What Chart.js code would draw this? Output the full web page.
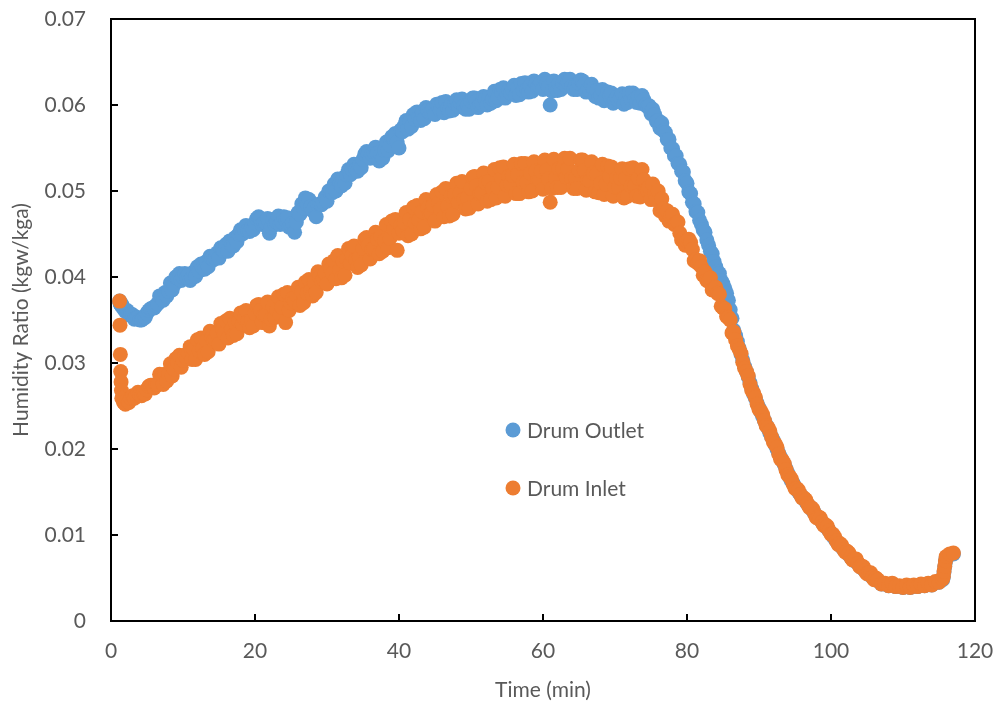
<!DOCTYPE html>
<html>
<head>
<meta charset="utf-8">
<title>Humidity Ratio</title>
<script src="https://cdn.jsdelivr.net/npm/chart.js@4.4.1/dist/chart.umd.min.js"></script>
<style>
  body { margin: 0; background: #fff; }
  #wrap { width: 998px; height: 706px; }
</style>
</head>
<body>
<div id="wrap"><canvas id="humidity" width="998" height="706"></canvas></div>
<script>
// time (min): first readings very close, every 0.25 min up to 106, every 0.5 min after, close again at the end jump
const times = [
  1.2, 1.25, 1.3, 1.35, 1.4, 1.45,
  1.5, 1.75, 2, 2.25, 2.5, 2.75, 3, 3.25, 3.5, 3.75, 4, 4.25, 4.5, 4.75, 5, 5.25, 5.5, 5.75, 6, 6.25,
  6.5, 6.75, 7, 7.25, 7.5, 7.75, 8, 8.25, 8.5, 8.75, 9, 9.25, 9.5, 9.75, 10, 10.25, 10.5, 10.75, 11, 11.25,
  11.5, 11.75, 12, 12.25, 12.5, 12.75, 13, 13.25, 13.5, 13.75, 14, 14.25, 14.5, 14.75, 15, 15.25, 15.5, 15.75, 16, 16.25,
  16.5, 16.75, 17, 17.25, 17.5, 17.75, 18, 18.25, 18.5, 18.75, 19, 19.25, 19.5, 19.75, 20, 20.25, 20.5, 20.75, 21, 21.25,
  21.5, 21.75, 22, 22.25, 22.5, 22.75, 23, 23.25, 23.5, 23.75, 24, 24.25, 24.5, 24.75, 25, 25.25, 25.5, 25.75, 26, 26.25,
  26.5, 26.75, 27, 27.25, 27.5, 27.75, 28, 28.25, 28.5, 28.75, 29, 29.25, 29.5, 29.75, 30, 30.25, 30.5, 30.75, 31, 31.25,
  31.5, 31.75, 32, 32.25, 32.5, 32.75, 33, 33.25, 33.5, 33.75, 34, 34.25, 34.5, 34.75, 35, 35.25, 35.5, 35.75, 36, 36.25,
  36.5, 36.75, 37, 37.25, 37.5, 37.75, 38, 38.25, 38.5, 38.75, 39, 39.25, 39.5, 39.75, 40, 40.25, 40.5, 40.75, 41, 41.25,
  41.5, 41.75, 42, 42.25, 42.5, 42.75, 43, 43.25, 43.5, 43.75, 44, 44.25, 44.5, 44.75, 45, 45.25, 45.5, 45.75, 46, 46.25,
  46.5, 46.75, 47, 47.25, 47.5, 47.75, 48, 48.25, 48.5, 48.75, 49, 49.25, 49.5, 49.75, 50, 50.25, 50.5, 50.75, 51, 51.25,
  51.5, 51.75, 52, 52.25, 52.5, 52.75, 53, 53.25, 53.5, 53.75, 54, 54.25, 54.5, 54.75, 55, 55.25, 55.5, 55.75, 56, 56.25,
  56.5, 56.75, 57, 57.25, 57.5, 57.75, 58, 58.25, 58.5, 58.75, 59, 59.25, 59.5, 59.75, 60, 60.25, 60.5, 60.75, 61, 61.25,
  61.5, 61.75, 62, 62.25, 62.5, 62.75, 63, 63.25, 63.5, 63.75, 64, 64.25, 64.5, 64.75, 65, 65.25, 65.5, 65.75, 66, 66.25,
  66.5, 66.75, 67, 67.25, 67.5, 67.75, 68, 68.25, 68.5, 68.75, 69, 69.25, 69.5, 69.75, 70, 70.25, 70.5, 70.75, 71, 71.25,
  71.5, 71.75, 72, 72.25, 72.5, 72.75, 73, 73.25, 73.5, 73.75, 74, 74.25, 74.5, 74.75, 75, 75.25, 75.5, 75.75, 76, 76.25,
  76.5, 76.75, 77, 77.25, 77.5, 77.75, 78, 78.25, 78.5, 78.75, 79, 79.25, 79.5, 79.75, 80, 80.25, 80.5, 80.75, 81, 81.25,
  81.5, 81.75, 82, 82.25, 82.5, 82.75, 83, 83.25, 83.5, 83.75, 84, 84.25, 84.5, 84.75, 85, 85.25, 85.5, 85.75, 86, 86.25,
  86.5, 86.75, 87, 87.25, 87.5, 87.75, 88, 88.25, 88.5, 88.75, 89, 89.25, 89.5, 89.75, 90, 90.25, 90.5, 90.75, 91, 91.25,
  91.5, 91.75, 92, 92.25, 92.5, 92.75, 93, 93.25, 93.5, 93.75, 94, 94.25, 94.5, 94.75, 95, 95.25, 95.5, 95.75, 96, 96.25,
  96.5, 96.75, 97, 97.25, 97.5, 97.75, 98, 98.25, 98.5, 98.75, 99, 99.25, 99.5, 99.75, 100, 100.25, 100.5, 100.75, 101, 101.25,
  101.5, 101.75, 102, 102.25, 102.5, 102.75, 103, 103.25, 103.5, 103.75, 104, 104.25, 104.5, 104.75, 105, 105.25, 105.5, 105.75, 106, 106.25,
  106.5, 107, 107.5, 108, 108.5, 109, 109.5, 110, 110.5, 111,
  111.5, 112, 112.5, 113, 113.5, 114, 114.5, 115, 115.5,
  115.6, 115.7, 115.8, 115.9, 116, 116.5, 117
];

// humidity ratio, kgw/kga
const drumOutlet = [
  .0372, .0370, .0369, .0368, .0367, .0367,
  .0368, .0363, .0360, .0361, .0356, .0357, .0356, .0351, .0352, .0353, .0350, .0350, .0352, .0353, .0358, .0361, .0363, .0364, .0364, .0367,
  .0369, .0378, .0378, .0373, .0382, .0378, .0383, .0393, .0385, .0391, .0400, .0399, .0404, .0396, .0400, .0404, .0400, .0403, .0396, .0399,
  .0406, .0401, .0412, .0407, .0415, .0410, .0409, .0418, .0412, .0424, .0422, .0420, .0422, .0428, .0422, .0434, .0432, .0430, .0438, .0430,
  .0442, .0437, .0436, .0446, .0441, .0450, .0455, .0450, .0456, .0460, .0454, .0453, .0457, .0455, .0463, .0468, .0470, .0468, .0461, .0463,
  .0463, .0468, .0451, .0458, .0467, .0461, .0464, .0471, .0461, .0464, .0470, .0467, .0469, .0458, .0460, .0463, .0452, .0464, .0475, .0473,
  .0485, .0480, .0492, .0484, .0490, .0482, .0477, .0481, .0470, .0484, .0485, .0484, .0487, .0493, .0488, .0500, .0500, .0498, .0508, .0500,
  .0514, .0508, .0506, .0515, .0509, .0519, .0525, .0519, .0525, .0531, .0525, .0523, .0529, .0527, .0537, .0543, .0546, .0544, .0538, .0543,
  .0545, .0551, .0544, .0535, .0542, .0538, .0547, .0557, .0547, .0553, .0563, .0561, .0567, .0557, .0550, .0571, .0569, .0576, .0582, .0572,
  .0581, .0575, .0589, .0583, .0592, .0585, .0582, .0591, .0584, .0597, .0594, .0591, .0592, .0596, .0589, .0601, .0598, .0594, .0603, .0591,
  .0604, .0596, .0593, .0601, .0594, .0602, .0606, .0598, .0603, .0607, .0599, .0595, .0599, .0595, .0604, .0608, .0608, .0604, .0597, .0601,
  .0602, .0610, .0607, .0600, .0609, .0602, .0607, .0616, .0605, .0609, .0618, .0615, .0620, .0608, .0613, .0617, .0614, .0618, .0623, .0611,
  .0620, .0612, .0625, .0617, .0626, .0618, .0615, .0623, .0616, .0628, .0625, .0621, .0622, .0626, .0618, .0630, .0625, .0621, .0600, .0616,
  .0628, .0620, .0617, .0625, .0618, .0626, .0630, .0622, .0626, .0630, .0622, .0618, .0622, .0618, .0625, .0629, .0628, .0624, .0615, .0618,
  .0617, .0624, .0619, .0610, .0617, .0608, .0611, .0618, .0605, .0608, .0615, .0611, .0614, .0602, .0605, .0609, .0605, .0609, .0613, .0601,
  .0610, .0603, .0614, .0607, .0614, .0607, .0603, .0610, .0602, .0611, .0606, .0600, .0598, .0599, .0590, .0595, .0589, .0581, .0582, .0573,
  .0579, .0570, .0568, .0560, .0560, .0550, .0549, .0541, .0541, .0532, .0531, .0523, .0522, .0512, .0509, .0499, .0497, .0487, .0485, .0476,
  .0475, .0466, .0461, .0455, .0452, .0443, .0437, .0430, .0427, .0418, .0412, .0406, .0404, .0396, .0392, .0387, .0381, .0373, .0362, .0352,
  .0338, .0332, .0325, .0317, .0310, .0303, .0296, .0290, .0284, .0277, .0270, .0264, .0259, .0253, .0248, .0243, .0238, .0233, .0228, .0224,
  .0219, .0214, .0210, .0205, .0200, .0195, .0190, .0186, .0182, .0177, .0172, .0167, .0163, .0160, .0156, .0153, .0150, .0147, .0144, .0142,
  .0139, .0136, .0133, .0131, .0128, .0125, .0121, .0120, .0118, .0115, .0112, .0110, .0108, .0105, .0102, .0099, .0096, .0093, .0090, .0088,
  .0086, .0083, .0081, .0079, .0077, .0074, .0072, .0070, .0070, .0067, .0064, .0062, .0061, .0058, .0056, .0054, .0054, .0051, .0049, .0048,
  .0047, .0043, .0043, .0041, .0043, .0040, .0040, .0039, .0041, .0039,
  .0041, .0040, .0042, .0041, .0043, .0042, .0045, .0045, .0048,
  .0051, .0057, .0063, .0069, .0074, .0077, .0078
];

const drumInlet = [
  .0372, .0344, .0310, .0290, .0278, .0268,
  .0259, .0254, .0252, .0257, .0254, .0259, .0262, .0259, .0263, .0266, .0263, .0262, .0265, .0264, .0269, .0273, .0274, .0274, .0271, .0275,
  .0275, .0287, .0283, .0275, .0287, .0279, .0287, .0299, .0285, .0293, .0305, .0301, .0309, .0295, .0303, .0309, .0306, .0312, .0319, .0304,
  .0316, .0304, .0327, .0314, .0329, .0317, .0310, .0326, .0313, .0337, .0330, .0326, .0327, .0335, .0322, .0346, .0339, .0334, .0349, .0329,
  .0352, .0339, .0332, .0347, .0334, .0349, .0358, .0345, .0352, .0361, .0348, .0341, .0350, .0343, .0358, .0367, .0368, .0361, .0347, .0356,
  .0356, .0371, .0343, .0351, .0366, .0353, .0362, .0377, .0356, .0365, .0380, .0347, .0382, .0361, .0370, .0375, .0372, .0379, .0388, .0367,
  .0383, .0370, .0394, .0381, .0397, .0384, .0378, .0394, .0382, .0406, .0400, .0395, .0397, .0404, .0392, .0415, .0409, .0404, .0419, .0398,
  .0425, .0408, .0399, .0418, .0402, .0421, .0433, .0416, .0425, .0436, .0420, .0411, .0423, .0414, .0433, .0444, .0446, .0437, .0421, .0432,
  .0433, .0452, .0444, .0427, .0447, .0430, .0442, .0461, .0434, .0445, .0465, .0456, .0467, .0431, .0451, .0460, .0454, .0463, .0475, .0448,
  .0467, .0450, .0481, .0463, .0483, .0466, .0456, .0476, .0458, .0490, .0480, .0473, .0474, .0483, .0465, .0496, .0486, .0479, .0499, .0470,
  .0503, .0482, .0471, .0494, .0473, .0496, .0509, .0487, .0498, .0511, .0490, .0479, .0492, .0480, .0503, .0516, .0517, .0506, .0485, .0497,
  .0498, .0521, .0510, .0488, .0511, .0490, .0503, .0525, .0492, .0504, .0527, .0515, .0528, .0494, .0507, .0517, .0508, .0518, .0531, .0497,
  .0519, .0497, .0532, .0510, .0532, .0510, .0499, .0521, .0500, .0534, .0523, .0513, .0513, .0523, .0502, .0536, .0524, .0514, .0487, .0503,
  .0537, .0515, .0504, .0526, .0504, .0526, .0538, .0516, .0526, .0538, .0515, .0503, .0515, .0503, .0524, .0536, .0536, .0524, .0501, .0513,
  .0512, .0534, .0521, .0499, .0520, .0498, .0509, .0531, .0496, .0508, .0529, .0517, .0528, .0494, .0505, .0515, .0505, .0515, .0526, .0492,
  .0515, .0494, .0526, .0506, .0527, .0506, .0494, .0515, .0493, .0525, .0513, .0501, .0501, .0505, .0490, .0508, .0498, .0490, .0500, .0477,
  .0491, .0479, .0471, .0477, .0465, .0471, .0473, .0461, .0462, .0464, .0451, .0443, .0445, .0437, .0442, .0444, .0440, .0432, .0419, .0420,
  .0416, .0419, .0412, .0402, .0406, .0396, .0395, .0399, .0385, .0385, .0388, .0381, .0380, .0366, .0364, .0363, .0354, .0353, .0350, .0335,
  .0336, .0327, .0320, .0316, .0311, .0301, .0294, .0290, .0285, .0275, .0268, .0265, .0260, .0252, .0246, .0244, .0240, .0233, .0227, .0225,
  .0221, .0214, .0208, .0206, .0202, .0194, .0188, .0187, .0183, .0176, .0170, .0168, .0165, .0159, .0154, .0154, .0152, .0147, .0143, .0143,
  .0141, .0136, .0132, .0132, .0130, .0124, .0120, .0121, .0120, .0115, .0111, .0112, .0110, .0105, .0101, .0101, .0098, .0093, .0089, .0090,
  .0088, .0083, .0080, .0081, .0079, .0074, .0071, .0072, .0072, .0067, .0063, .0064, .0063, .0058, .0055, .0056, .0056, .0051, .0048, .0050,
  .0048, .0043, .0044, .0041, .0044, .0040, .0041, .0039, .0042, .0039,
  .0042, .0040, .0043, .0041, .0044, .0042, .0046, .0045, .0049,
  .0052, .0058, .0064, .0070, .0075, .0078, .0079
];

const xTicks = [0, 20, 40, 60, 80, 100, 120];
const yTicks = [0, 0.01, 0.02, 0.03, 0.04, 0.05, 0.06, 0.07];

const seriesNames = ['Drum Outlet', 'Drum Inlet'];
const seriesColors = ['#5B9BD5', '#ED7D31'];

const textGrey = '#595959';
const fontFamily = 'Lato, "Open Sans", sans-serif';

function toPoints(ys) {
  return ys.map((y, i) => ({ x: times[i], y: y }));
}

// black box round the plot + inside tick marks like excel
const frameAndTicks = {
  id: 'frameAndTicks',
  afterDraw(chart) {
    const ctx = chart.ctx;
    const a = chart.chartArea;
    const xs = chart.scales.x, ys = chart.scales.y;
    ctx.save();
    ctx.strokeStyle = '#000';
    ctx.lineWidth = 2;
    ctx.strokeRect(a.left, a.top, a.right - a.left, a.bottom - a.top);
    ctx.beginPath();
    xTicks.forEach(v => {
      const px = Math.round(xs.getPixelForValue(v));
      ctx.moveTo(px, a.bottom);
      ctx.lineTo(px, a.bottom - 7);
    });
    yTicks.forEach(v => {
      const py = Math.round(ys.getPixelForValue(v));
      ctx.moveTo(a.left, py);
      ctx.lineTo(a.left + 7, py);
    });
    ctx.stroke();
    ctx.restore();
  }
};

// legend sits inside the plot, in the middle
const innerLegend = {
  id: 'innerLegend',
  afterDatasetsDraw(chart) {
    const ctx = chart.ctx;
    ctx.save();
    ctx.font = '21px ' + fontFamily;
    ctx.textBaseline = 'middle';
    ctx.textAlign = 'left';
    seriesNames.forEach((name, i) => {
      const cy = 430 + i * 58;
      ctx.fillStyle = seriesColors[i];
      ctx.beginPath();
      ctx.arc(513, cy, 7.5, 0, Math.PI * 2);
      ctx.fill();
      ctx.fillStyle = textGrey;
      ctx.fillText(name, 527, cy + 1);
    });
    ctx.restore();
  }
};

const ctx = document.getElementById('humidity');
const myChart = new Chart(ctx, {
  type: 'scatter',
  data: {
    datasets: [
      {
        label: seriesNames[0],
        data: toPoints(drumOutlet),
        backgroundColor: seriesColors[0],
        borderWidth: 0,
        pointRadius: 7.5,
        order: 2
      },
      {
        label: seriesNames[1],
        data: toPoints(drumInlet),
        backgroundColor: seriesColors[1],
        borderWidth: 0,
        pointRadius: 7.5,
        order: 1
      }
    ]
  },
  options: {
    responsive: false,
    animation: false,
    layout: { padding: { left: 0, right: 23, top: 19, bottom: 0 } },
    plugins: {
      legend: { display: false },
      tooltip: { enabled: false }
    },
    scales: {
      x: {
        type: 'linear',
        min: 0,
        max: 120,
        afterFit: s => {
          s.height = 85;
          s.paddingLeft = 0;
          s.paddingRight = 0;
        },
        afterBuildTicks: s => { s.ticks = xTicks.map(v => ({ value: v })); },
        grid: { display: false, drawTicks: false },
        border: { display: false },
        ticks: {
          color: textGrey,
          padding: 18,
          maxRotation: 0,
          font: { family: fontFamily, size: 21 }
        },
        title: {
          display: true,
          text: 'Time (min)',
          color: textGrey,
          padding: { top: 0, bottom: 3 },
          font: { family: fontFamily, size: 21 }
        }
      },
      y: {
        type: 'linear',
        min: 0,
        max: 0.07,
        afterFit: s => {
          s.width = 111;
          s.paddingTop = 0;
          s.paddingBottom = 0;
        },
        afterBuildTicks: s => { s.ticks = yTicks.map(v => ({ value: v })); },
        grid: { display: false, drawTicks: false },
        border: { display: false },
        ticks: {
          color: textGrey,
          padding: 25,
          font: { family: fontFamily, size: 21 },
          callback: v => (v === 0 ? '0' : v.toFixed(2))
        },
        title: {
          display: true,
          text: 'Humidity Ratio (kgw/kga)',
          color: textGrey,
          padding: { top: 9, bottom: 0 },
          font: { family: fontFamily, size: 21 }
        }
      }
    }
  },
  plugins: [frameAndTicks, innerLegend]
});
</script>
</body>
</html>
